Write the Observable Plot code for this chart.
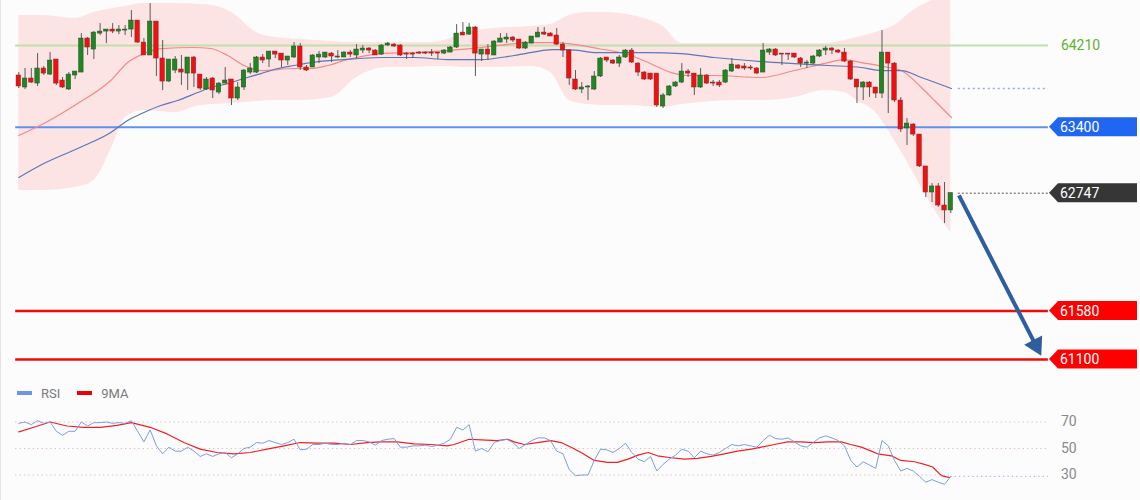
<!DOCTYPE html>
<html><head><meta charset="utf-8">
<script src="https://cdn.jsdelivr.net/npm/d3@7"></script>
<script src="https://cdn.jsdelivr.net/npm/@observablehq/plot@0.6"></script>
<style>
html,body{margin:0;padding:0;background:#fcfcfd;}
#wrap{position:relative;width:1140px;height:500px;overflow:hidden;border-left:1px solid #e4e4e4;box-sizing:border-box;font-family:Roboto,"Liberation Sans",sans-serif;}
#price{position:absolute;left:-1px;top:0;}
#rsi{position:absolute;left:-1px;top:400px;}
#legend{position:absolute;left:16px;top:384px;font-size:13px;color:#7a7a7a;display:flex;align-items:center;height:18px;}
#legend .sw{display:inline-block;width:15px;height:4px;margin-right:9px;}
#legend .it{display:flex;align-items:center;margin-right:17px;}
</style></head>
<body><div id="wrap"><div id="price"></div>
<div id="legend"><span class="it"><span class="sw" style="background:#6f93e6"></span>RSI</span><span class="it"><span class="sw" style="background:#ee0000"></span>9MA</span></div>
<div id="rsi"></div></div>
<script>
// ---- candle data (index 0..149) ----
const opens = [63913,63794,63883,63833,63982,63922,64071,63863,63774,63913,
63942,64279,64170,64328,64348,64368,64348,64358,64368,64457,
64239,64111,64447,64081,63853,63962,63972,63932,64091,63922,
63774,63883,63744,63833,63873,63685,63794,63942,63942,64091,
64071,64150,64130,64061,64091,64200,63992,63992,64091,64091,
64130,64091,64091,64140,64111,64160,64180,64160,64120,64210,
64219,64210,64130,64130,64140,64140,64140,64140,64130,64140,
64190,64338,64318,64388,64120,64170,64111,64239,64269,64289,
64269,64180,64229,64289,64338,64328,64309,64219,64160,63873,
63774,63794,63774,63903,64091,64061,64031,64091,64160,64031,
63942,63932,63932,63606,63715,63804,63843,63952,63932,63794,
63913,63843,63843,63843,63952,64012,64002,63992,63982,63942,
64140,64170,64130,64130,64130,64081,64031,64031,64101,64160,
64180,64160,64140,64051,63873,63794,63843,63794,63734,64140,
64031,63665,63388,63427,63328,63012,62754,62814,62625,62576];
const highs = [63942,63982,63982,64130,64002,64140,64071,63893,63942,63952,
64328,64289,64348,64427,64368,64427,64408,64408,64556,64457,
64279,64625,64447,64259,64071,64101,64111,64091,64101,63922,
63893,63893,63843,63992,63873,63843,63972,64031,64101,64120,
64150,64150,64130,64101,64239,64229,64012,64120,64150,64140,
64140,64160,64150,64160,64219,64210,64190,64170,64219,64239,
64229,64219,64140,64140,64150,64150,64170,64140,64170,64200,
64417,64437,64427,64398,64170,64219,64259,64328,64328,64299,
64269,64249,64299,64388,64388,64338,64378,64239,64170,63962,
63843,63814,63952,64091,64091,64071,64111,64170,64180,64041,
63952,63932,63932,63734,63814,63853,64031,63972,63932,63982,
63922,63863,63863,63972,64081,64021,64031,64012,63992,64229,
64180,64180,64130,64130,64130,64091,64061,64111,64170,64200,
64190,64170,64180,64061,63873,63853,63853,63794,64358,64140,
64041,63695,63487,63437,63328,63012,62843,62843,62853,62754];
const lows = [63784,63774,63833,63804,63913,63913,63814,63784,63764,63873,
63942,64111,64071,64309,64229,64328,64318,64309,64289,64229,
64111,64111,63903,63764,63843,63932,63814,63764,63794,63764,
63764,63685,63724,63833,63616,63665,63764,63922,63932,64031,
63992,64081,63992,64012,64081,63962,63952,63992,64031,64081,
64041,64081,64091,64091,64081,64130,64130,64111,64111,64200,
64190,64101,64071,64081,64120,64120,64101,64071,64120,64140,
64180,64309,64309,63903,64051,64061,64111,64239,64229,64239,
64170,64170,64229,64289,64309,64299,64210,64091,63814,63764,
63734,63665,63764,63893,64041,64021,63992,64081,64031,63903,
63863,63863,63596,63586,63705,63794,63833,63893,63715,63784,
63823,63804,63794,63833,63942,63972,63962,63962,63922,63942,
64111,64101,64012,64061,64081,63992,63982,64021,64091,64111,
64120,64130,64041,63863,63635,63665,63695,63685,63685,63536,
63645,63348,63220,63309,63002,62705,62655,62606,62447,62546];
const closes = [63804,63883,63843,63982,63932,64061,63833,63794,63922,63952,
64279,64190,64338,64348,64368,64348,64368,64368,64457,64239,
64111,64447,64081,63853,64071,64071,63942,64091,63932,63784,
63873,63764,63833,63863,63685,63794,63962,63982,64091,64061,
64150,64120,64061,64101,64200,63992,63962,64111,64120,64140,
64101,64101,64140,64120,64170,64180,64160,64111,64210,64229,
64200,64111,64120,64120,64130,64130,64130,64130,64160,64190,
64328,64309,64388,64130,64170,64120,64249,64279,64289,64259,
64180,64239,64299,64338,64318,64299,64219,64160,63883,63774,
63794,63804,63903,64081,64061,64031,64091,64160,64041,63942,
63873,63873,63616,63715,63804,63843,63952,63932,63794,63913,
63833,63833,63814,63962,64021,63982,63982,63982,63932,64160,
64170,64111,64120,64120,64091,64031,64041,64101,64160,64180,
64160,64140,64051,63873,63794,63843,63794,63734,64140,64031,
63665,63378,63437,63328,63012,62754,62814,62625,62576,62747];

// ---- Bollinger band (read at sample indices) ----
const bandIdx   = [0,4,9,12,15,17,20,25,29,31,34,38,41,45,50,54,59,63,66,69,71,76,82,85,88,91,94,98,100,103,106,109,115,119,124,129,132,134,137,140,143,145,147,149];
const bandUpper = [64506,64506,64477,64536,64576,64596,64625,64625,64615,64605,64536,64338,64289,64269,64249,64239,64239,64239,64239,64279,64328,64378,64398,64417,64506,64536,64536,64506,64477,64398,64229,64229,64229,64229,64229,64229,64259,64289,64338,64407,64556,64625,64675,64705];
const bandLower = [62774,62774,62804,62873,63219,63497,63566,63546,63615,63625,63635,63655,63665,63665,63695,63893,63992,63992,64002,64002,63992,63992,64002,63942,63665,63625,63615,63615,63606,63596,63625,63645,63665,63665,63695,63764,63744,63665,63546,63269,62952,62724,62526,62358];

// ---- moving averages ----
const maFastIdx = [0,4,9.4,14.7,17.4,20,22.7,28,30.7,33.4,36,38.7,44,46.7,49.4,52,57.9,63.2,68.6,73.9,81.9,85.5,87.8,92.6,97.9,100.6,104.3,107,111.2,118.7,124,129.4,131.9,134.7,139,141.1,144.3,146.4,149.1];
const maFast    = [63318,63437,63635,63863,64041,64130,64180,64190,64180,64111,64012,63962,63982,63982,64012,64061,64130,64140,64160,64190,64239,64239,64229,64180,64111,64041,63942,63913,63913,63893,63962,64041,64071,64041,63992,63962,63794,63665,63497];
const maSlowIdx = [0,4,9.4,14.7,17.4,20,22.7,25.4,28.6,30.7,33.4,36,38.7,41.4,44,46.7,52,57.9,63.2,68.6,73.9,79.2,85.5,87.8,92.6,100.6,105.9,111.2,118.7,124,129.4,134.7,137.9,141.1,144.3,149.1];
const maSlow    = [62903,63041,63190,63348,63467,63546,63616,63665,63744,63794,63833,63883,63932,63982,64012,64041,64071,64091,64091,64071,64071,64111,64170,64170,64140,64140,64130,64091,64051,64031,64012,63992,63962,63962,63893,63784];

// ---- levels ----
const levelGreen = [64210];
const levelBlue = [63400];
const levelRed = [61580, 61100];
const tagValues = [63400, 62747, 61580, 61100];
const tagColors = ["#1f66f2", "#363636", "#ff0000", "#ff0000"];
const lastPrice = [62747];
const maSlowLast = [63784];
const arrowFrom = [150.3, 62725];
const arrowTo = [162.6, 61240];

// ---- RSI ----
const rsi = [69,70,68,71,69,70,63,60,63,63,70,67,69.5,69.5,70,69,69.5,69,71,63,
55,64,52,46,51,48,48,51,48,44,46,44,46,47,43,46,50,51,54.5,54,
56,54.5,53,54.5,57,49,49.5,53,53,54,53,53,54,53,56,56,55,52.5,56,57,
57.5,51,51,52,52,52.5,51.5,52.5,54,57,66,64,68,48,50,47.5,54.5,56,57,54.5,
50,53,56,58,58,56,48,46,34,29.5,30,30,41,49.5,49,47,50,54,47,42,
40,44,33,38,42,45,49.5,48,43,48,46,45,47,50,53,52,53,52,51,56,
60,57.5,57,58,55,52,51,54.5,58,59.5,58,56,52,41,36,40,37.5,35,56,52,
41,33,35,33,29,24.5,26.5,24.5,23,29];
const ma9Idx = [0,2.4,5,7.7,10.4,13.1,15.7,18,21,23.7,26.4,29,31.7,34.4,37,39.7,42.4,45,47.7,50.4,53,55.7,57.9,60.5,63.2,65.9,68.5,69.6,72,73.9,76.5,78.1,79.2,80.8,82.9,85.1,86.7,88.3,89.9,92,94.1,95.7,97.4,99,100.6,102.1,104.3,106.4,108.5,110.7,112.8,114.9,117.1,118.7,120.8,122.9,125,127.2,129.3,131.5,133,134.7,136.3,137.3,139.5,141,143.2,144.8,146.1,147.5,148.8];
const ma9 = [62.5,66,70,67,66,66,67.5,69.5,66,61,54.5,49.5,47,46,47,49.5,52,54.5,54,54,53,54.5,55,55,53.5,53,52,53,57,56.5,56,57,55,53,54.5,56,54.5,51,47,41,39.5,39.5,42,45,47,44.5,43,42,42.5,44,46,48,49.5,51,53,55,55,54.5,55,55,53,51,48,46,44.5,41,40,38,36,29.5,28];
const rsiLevels = [70, 50, 30];

// ---- layout constants ----
const X = {domain: [0, 149], range: [18.3, 950.3]};
const spanStart = -0.5, spanEnd = 164.6, labelX = 166.6, lastIdx = 149, extStart = 150.2;

const candles = opens.map((o, i) => ({i, o, h: highs[i], l: lows[i], c: closes[i]}));
const ups = candles.filter(d => d.c >= d.o);
const downs = candles.filter(d => d.c < d.o);
const band = bandIdx.map((i, k) => ({i, hi: bandUpper[k], lo: bandLower[k]}));
const fast = maFastIdx.map((i, k) => ({i, v: maFast[k]}));
const slow = maSlowIdx.map((i, k) => ({i, v: maSlow[k]}));
const hw = 0.36;

const priceChart = Plot.plot({
  width: 1140, height: 380, margin: 0,
  x: {...X, axis: null},
  y: {domain: [61100, 64210], range: [359, 45], axis: null},
  style: {background: "transparent"},
  marks: [
    Plot.areaY(band, {x: "i", y1: "lo", y2: "hi", fill: "#ff3030", fillOpacity: 0.12, curve: "monotone-x"}),
    Plot.ruleY(levelGreen, {x1: spanStart, x2: spanEnd, stroke: "#bfe0a8", strokeWidth: 2}),
    Plot.ruleY(levelBlue, {x1: spanStart, x2: spanEnd, stroke: "#5f92ee", strokeWidth: 2}),
    Plot.ruleY(levelRed, {x1: spanStart, x2: spanEnd, stroke: "#ee0b0b", strokeWidth: 2.6}),
    Plot.line(fast, {x: "i", y: "v", stroke: "#f28a8a", strokeWidth: 1.2, curve: "monotone-x"}),
    Plot.line(slow, {x: "i", y: "v", stroke: "#5a78b6", strokeWidth: 1.2, curve: "monotone-x"}),
    Plot.ruleY(maSlowLast, {x1: extStart, x2: spanEnd, stroke: "#9aaedc", strokeWidth: 1.5, strokeDasharray: "2,3"}),
    Plot.ruleY(lastPrice, {x1: extStart, x2: spanEnd, stroke: "#555", strokeWidth: 1, strokeDasharray: "2,2"}),
    Plot.ruleX(candles, {x: "i", y1: "l", y2: "h", stroke: "#5a5a5a", strokeWidth: 1}),
    Plot.rect(ups, {x1: d => d.i - hw, x2: d => d.i + hw, y1: "o", y2: "c", fill: "#1f871f", stroke: "#2a4a2a", strokeWidth: 0.5}),
    Plot.rect(downs, {x1: d => d.i - hw, x2: d => d.i + hw, y1: "o", y2: "c", fill: "#f01010", stroke: "#7a2a2a", strokeWidth: 0.5}),
    Plot.link([0], {x1: () => arrowFrom[0], y1: () => arrowFrom[1], x2: () => arrowTo[0], y2: () => arrowTo[1], stroke: "#2e5e9e", strokeWidth: 4}),
    Plot.dot([0], {x: () => arrowTo[0], y: () => arrowTo[1], symbol: "triangle", r: 7.5, fill: "#2e5e9e", rotate: 152.6}),
    Plot.text(levelGreen, {x: labelX, y: d => d, text: d => String(d), textAnchor: "start", fill: "#62b02e", fontSize: 14, fontFamily: "Roboto, sans-serif"})
  ]
});
document.getElementById("price").append(priceChart);

const yS = priceChart.scale("y");
const svg = d3.select(priceChart);
tagValues.forEach((v, k) => {
  const y = yS.apply(v);
  svg.append("path").attr("d", `M1049,${y}L1058,${y - 9.5}H1137V${y + 9.5}H1058Z`).attr("fill", tagColors[k]);
  svg.append("text").attr("x", 1060).attr("y", y).attr("dy", "0.36em").attr("fill", "#fff")
    .attr("text-anchor", "start").attr("font-size", 14).attr("font-family", "Roboto, sans-serif").text(String(v));
});

const rsiData = rsi.map((v, i) => ({i, v}));
const ma9Data = ma9Idx.map((i, k) => ({i, v: ma9[k]}));
const rsiChart = Plot.plot({
  width: 1140, height: 100, margin: 0,
  x: {...X, axis: null},
  y: {domain: [30, 70], range: [74.5, 21.5], axis: null},
  style: {background: "transparent"},
  marks: [
    Plot.ruleY(rsiLevels, {x1: spanStart, x2: d => d === 30 ? lastIdx : spanEnd, stroke: "#e2b8b8", strokeWidth: 1, strokeDasharray: "1.2,3.2"}),
    Plot.ruleY([rsi[rsi.length - 1]], {x1: lastIdx, x2: spanEnd, stroke: "#8ca6e6", strokeWidth: 1, strokeDasharray: "1.2,3.2"}),
    Plot.line(ma9Data, {x: "i", y: "v", stroke: "#f02020", strokeWidth: 1.2}),
    Plot.line(rsiData, {x: "i", y: "v", stroke: "#7c9ce8", strokeWidth: 1}),
    Plot.text(rsiLevels, {x: labelX, y: d => d, text: d => String(d), textAnchor: "start", fill: "#8a8a8a", fontSize: 14, fontFamily: "Roboto, sans-serif"})
  ]
});
document.getElementById("rsi").append(rsiChart);
</script>
</body></html>
